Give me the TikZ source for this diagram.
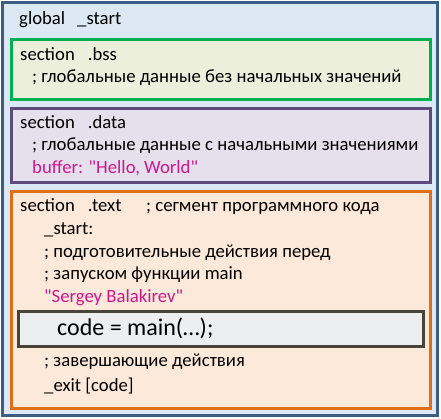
\documentclass[tikz,border=0pt]{standalone}
\usepackage{fontspec}
\setmainfont{Carlito}
\definecolor{outerfill}{HTML}{DCE9F4}
\definecolor{outerdraw}{HTML}{3C5E85}
\definecolor{greendraw}{HTML}{00B050}
\definecolor{greenfill}{HTML}{EBEFDC}
\definecolor{purpledraw}{HTML}{5F4B7B}
\definecolor{purplefill}{HTML}{E5E0EC}
\definecolor{orangedraw}{HTML}{DF6E18}
\definecolor{orangefill}{HTML}{FDE9D9}
\definecolor{codedraw}{HTML}{48443A}
\definecolor{codefill}{HTML}{EDEEF0}
\definecolor{magentatext}{HTML}{D0168F}
\tikzset{
  box/.style={line width=3pt},
  txt/.style={anchor=base west, inner sep=0pt, font=\fontsize{18.7}{22}\selectfont},
  pink/.style={txt, text=magentatext},
  codetxt/.style={anchor=base west, inner sep=0pt, font=\fontsize{24}{28}\selectfont},
}
\newcommand{\qq}{\textquotedbl}
\begin{document}
\begin{tikzpicture}[x=1pt,y=-1pt]
\useasboundingbox (0,0) rectangle (441,418);
\draw[box, draw=outerdraw, fill=outerfill] (2.5,2.5) rectangle (437.5,415.5);
\draw[box, draw=greendraw, fill=greenfill] (11,39.5) rectangle (430.5,99.5);
\draw[box, draw=purpledraw, fill=purplefill] (11,108.5) rectangle (430.5,182.5);
\draw[box, draw=orangedraw, fill=orangefill] (11,191.5) rectangle (430.5,408.5);
\draw[box, draw=codedraw, fill=codefill] (18,311.5) rectangle (423.5,346.5);

\node[txt] (glob) at (19,24) {global\hspace{12pt}\_start};
\node[txt] (bss) at (20,60) {section\hspace{13pt}.bss};
\node[txt] (bssc) at (32,82) {; глобальные данные без начальных значений};
\node[txt] (data) at (20,128) {section\hspace{13pt}.data};
\node[txt] (datac) at (32,150) {; глобальные данные с начальными значениями};
\node[pink] (buf) at (32,173) {buffer: \qq Hello, World\qq};
\node[txt] (text) at (20,211) {section\hspace{13pt}.text};
\node[txt] (textc) at (146,211) {; сегмент программного кода};
\node[txt] (st) at (44,234) {\_start:};
\node[txt] (prep1) at (44,257) {; подготовительные действия перед};
\node[txt] (prep2) at (44,279) {; запуском функции main};
\node[pink] (name) at (44,302) {\qq Sergey Balakirev\qq};
\node[codetxt] (code) at (57,335) {code = main(…);};
\node[txt] (fin) at (44,366) {; завершающие действия};
\node[txt] (exit) at (44,391) {\_exit [code]};
\end{tikzpicture}
\end{document}
